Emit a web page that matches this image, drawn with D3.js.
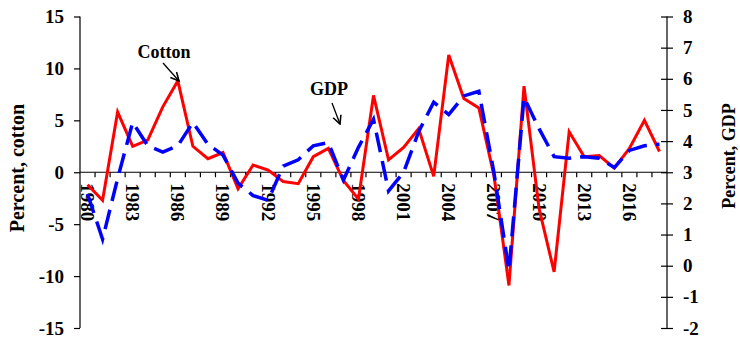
<!DOCTYPE html>
<html>
<head>
<meta charset="utf-8">
<script src="https://cdn.jsdelivr.net/npm/d3@7"></script>
<style>
  body { margin: 0; background: #fff; }
</style>
</head>
<body>
<div id="chart"></div>
<script>
// Data
const years = d3.range(1980, 2019);
const cotton = [-1.2, -2.7, 5.8, 2.5, 3.1, 6.3, 8.8, 2.5, 1.3, 1.9, -1.6, 0.7, 0.2, -0.9, -1.1, 1.5,
  2.3, -0.8, -2.6, 7.4, 1.2, 2.4, 4.2, -0.4, 11.3, 7.1, 6.2, -0.3, -10.9, 8.3, -3.5, -9.6,
  3.9, 1.5, 1.6, 0.4, 2.3, 5.0, 2.0];
const gdp = [2.3, 0.85, 2.8, 4.6, 3.85, 3.65, 3.85, 4.6, 3.9, 3.55, 2.65, 2.25, 2.1, 3.2, 3.4, 3.85,
  3.95, 2.75, 3.8, 4.7, 2.4, 3.0, 4.3, 5.25, 4.85, 5.45, 5.6, 3.0, -0.15, 5.4, 4.4, 3.5,
  3.45, 3.5, 3.45, 3.15, 3.7, 3.85, 3.9];
const leftTicks = [-15, -10, -5, 0, 5, 10, 15];
const rightTicks = [-2, -1, 0, 1, 2, 3, 4, 5, 6, 7, 8];
const yearLabels = d3.range(1980, 2019, 3);

const FONT = "'Liberation Serif', 'Times New Roman', Times, 'DejaVu Serif', serif";
const W = 740, H = 339;
const svg = d3.select("#chart").append("svg")
  .attr("width", W).attr("height", H)
  .style("font-family", FONT).style("font-weight", "bold");

const x = d3.scaleBand().domain(years).range([80, 667]).padding(0);
const yL = d3.scaleLinear().domain([-15, 15]).range([328, 16.5]);
const yR = d3.scaleLinear().domain([-2, 8]).range([328, 16.5]);
const cx = d => x(d) + x.bandwidth() / 2;

// left axis
const gL = svg.append("g").attr("transform", "translate(80,0)")
  .call(d3.axisLeft(yL).tickValues(leftTicks).tickSize(6).tickPadding(10));
gL.attr("font-family", null).attr("font-size", null);
gL.select(".domain").attr("stroke", "#000").attr("stroke-width", 1.2).attr("d", `M0,${yL(15)}V${yL(-15)}`);
gL.selectAll(".tick line").attr("stroke", "#000").attr("stroke-width", 1.2);
gL.selectAll("text").style("font-size", "19px").attr("fill", "#000")
  .text(d => d < 0 ? "-" + Math.abs(d) : d);

// right axis
const gR = svg.append("g").attr("transform", "translate(667,0)")
  .call(d3.axisRight(yR).tickValues(rightTicks).tickSize(6).tickPadding(10));
gR.attr("font-family", null).attr("font-size", null);
gR.select(".domain").attr("stroke", "#000").attr("stroke-width", 1.2).attr("d", `M0,${yR(8)}V${yR(-2)}`);
gR.selectAll(".tick line").attr("stroke", "#000").attr("stroke-width", 1.2).attr("x1", -6);
gR.selectAll("text").style("font-size", "19px").attr("fill", "#000")
  .text(d => d < 0 ? "-" + Math.abs(d) : d);

// x axis at zero
const gX = svg.append("g").attr("transform", `translate(0,${yL(0)})`);
gX.append("line").attr("x1", 80).attr("x2", 667).attr("stroke", "#000").attr("stroke-width", 1.2);
gX.selectAll(".xt").data(years.slice(1)).enter().append("line")
  .attr("x1", d => x(d)).attr("x2", d => x(d)).attr("y1", 0).attr("y2", 5)
  .attr("stroke", "#000").attr("stroke-width", 1.2);
gX.selectAll(".xl").data(yearLabels).enter().append("text")
  .attr("transform", d => `translate(${cx(d)},11) rotate(90)`)
  .attr("dominant-baseline", "central")
  .style("font-size", "19px")
  .text(d => d);

// lines
const lineC = d3.line().x((d, i) => cx(years[i])).y(d => yL(d));
const lineG = d3.line().x((d, i) => cx(years[i])).y(d => yR(d));
svg.append("path").datum(cotton).attr("d", lineC)
  .attr("fill", "none").attr("stroke", "#ff0000").attr("stroke-width", 3).attr("stroke-linejoin", "miter");
svg.append("path").datum(gdp).attr("d", lineG)
  .attr("fill", "none").attr("stroke", "#0000ff").attr("stroke-width", 3.5)
  .attr("stroke-dasharray", "20,9");

// axis titles
svg.append("text").attr("transform", "translate(24,168) rotate(-90)")
  .attr("text-anchor", "middle").style("font-size", "20px").text("Percent, cotton");
svg.append("text").attr("transform", "translate(735,156) rotate(-90)")
  .attr("text-anchor", "middle").style("font-size", "18px").text("Percent, GDP");

// annotations
svg.append("defs").append("marker").attr("id", "arr")
  .attr("viewBox", "0 0 10 10").attr("refX", 9).attr("refY", 5)
  .attr("markerWidth", 8).attr("markerHeight", 8).attr("orient", "auto")
  .append("path").attr("d", "M1,1L9,5L1,9").attr("fill", "none").attr("stroke", "#000").attr("stroke-width", 1.5);

svg.append("text").attr("x", 164).attr("y", 58).attr("text-anchor", "middle")
  .style("font-size", "18px").text("Cotton");
svg.append("line").attr("x1", 163).attr("y1", 63).attr("x2", 179).attr("y2", 81)
  .attr("stroke", "#000").attr("stroke-width", 1.3).attr("marker-end", "url(#arr)");

svg.append("text").attr("x", 329).attr("y", 95).attr("text-anchor", "middle")
  .style("font-size", "18px").text("GDP");
svg.append("line").attr("x1", 332).attr("y1", 103).attr("x2", 340).attr("y2", 124)
  .attr("stroke", "#000").attr("stroke-width", 1.3).attr("marker-end", "url(#arr)");
</script>
</body>
</html>
